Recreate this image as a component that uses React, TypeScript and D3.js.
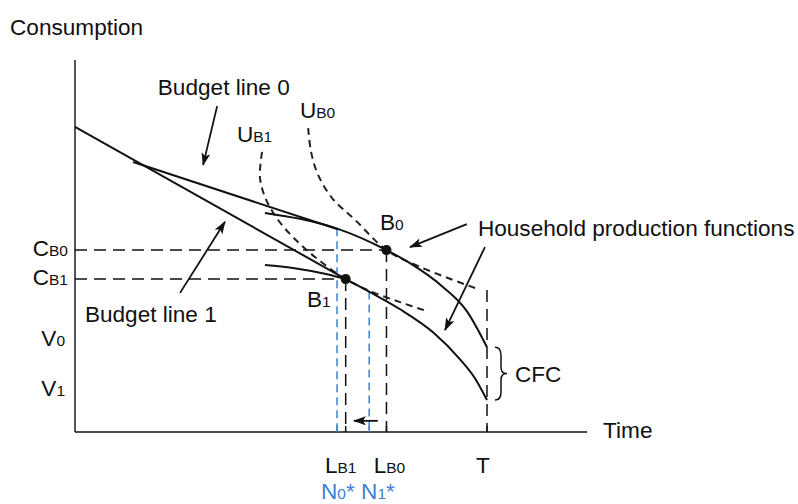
import React from 'react';
import * as d3 from 'd3';

type Pt = [number, number];

// Data space: time (x) 0..125, consumption (y) 0..100
const timeMax = 125;
const consMax = 100;
const axisEndTime = 124.3;
const T = 100;

const B0 = { time: 75.6, cons: 48.9 };
const B1 = { time: 65.7, cons: 41.1 };
const N0 = 63.6;
const N1 = 71.4;
const N0Top = 54.8;
const N1Top = 37.8;
const TTop = 38.2;
const V0 = 22.8;
const V1 = 8.6;

const budgetLine1: Pt[] = [[0, 82.0], [65.7, 41.1]];
const budgetLine0: Pt[] = [[14.1, 72.6], [63.8, 54.5]];

const hpf0: Pt[] = [
  [46.1, 58.9], [54.6, 57.3], [63.8, 54.6], [75.6, 48.9], [81.3, 45.4],
  [89.3, 39.0], [95.1, 32.5], [100, 22.8],
];
// production function 1: short arc left of B1, then the curve from B1 down to V1
const hpf1Left: Pt[] = [[46.1, 44.9], [52.9, 44.1], [61.2, 42.4], [65.7, 41.1]];
const hpf1Right: Pt[] = [
  [65.7, 41.1], [71.6, 37.6], [78.9, 33.0], [86.9, 26.8], [93.4, 19.6],
  [97.1, 14.4], [100, 8.6],
];
const uB0: Pt[] = [
  [56.6, 81.7], [57.3, 75.3], [59.0, 69.1], [62.4, 62.9], [68.0, 57.0],
  [75.6, 48.9], [83.7, 44.4], [97.1, 38.7],
];
const uB1: Pt[] = [
  [45.4, 75.3], [44.9, 68.3], [46.4, 62.4], [49.3, 57.0], [52.9, 52.4],
  [58.3, 47.0], [65.7, 41.1], [71.6, 37.9], [78.9, 34.9], [85.4, 32.5],
];

const arrows: { from: Pt; to: Pt }[] = [
  { from: [34.5, 87.6], to: [31.1, 71.8] },
  { from: [25.5, 37.4], to: [36.4, 56.5] },
  { from: [95.1, 55.9], to: [81.3, 49.7] },
  { from: [99.5, 49.7], to: [89.8, 27.4] },
  { from: [73.5, 3.0], to: [67.7, 3.0] },
];

const FONT = "'Liberation Sans', Arial, Helvetica, sans-serif";
const FS = 22.6;
const SFS = 15.5;
const BLUE = '#3f7fd6';

function Sub(props: { x: number; y: number; main: string; sub: string; anchor?: string; fill?: string }) {
  const { x, y, main, sub, anchor = 'start', fill = '#111' } = props;
  return (
    <text x={x} y={y} fontSize={FS} fill={fill} textAnchor={anchor as any} fontFamily={FONT}>
      <tspan>{main}</tspan>
      <tspan fontSize={SFS}>{sub}</tspan>
    </text>
  );
}

export default function App() {
  const x = d3.scaleLinear().domain([0, timeMax]).range([75, 590]);
  const y = d3.scaleLinear().domain([0, consMax]).range([432, 60]);
  const smooth = d3.line<Pt>().x(d => x(d[0])).y(d => y(d[1])).curve(d3.curveCatmullRom.alpha(0.5));
  const mono = d3.line<Pt>().x(d => x(d[0])).y(d => y(d[1])).curve(d3.curveMonotoneX);
  const straight = d3.line<Pt>().x(d => x(d[0])).y(d => y(d[1]));

  const bx0 = x(T) + 8;
  const by0 = y(V0);
  const by1 = y(V1);
  const bym = (by0 + by1) / 2;
  const brace = `M${bx0},${by0} Q${bx0 + 6},${by0} ${bx0 + 6},${by0 + 8} L${bx0 + 6},${bym - 6} Q${bx0 + 6},${bym} ${bx0 + 12},${bym} Q${bx0 + 6},${bym} ${bx0 + 6},${bym + 6} L${bx0 + 6},${by1 - 8} Q${bx0 + 6},${by1} ${bx0},${by1}`;

  const ticks = [
    { t: N0, c: BLUE },
    { t: B1.time, c: '#111' },
    { t: N1, c: BLUE },
    { t: B0.time, c: '#111' },
    { t: T, c: '#111' },
  ];

  return (
    <svg width={798} height={504} style={{ position: 'absolute', left: 0, top: 0, background: '#fff' }} fontFamily={FONT}>
      <defs>
        <marker id="ah" markerUnits="userSpaceOnUse" markerWidth={13} markerHeight={10} refX={12} refY={4.5} orient="auto">
          <path d="M0,0 L13,4.5 L0,9 L3,4.5 Z" fill="#111" />
        </marker>
      </defs>

      {/* axes */}
      <line x1={x(0)} y1={y(consMax)} x2={x(0)} y2={y(0)} stroke="#555" strokeWidth={2} />
      <line x1={x(0)} y1={y(0)} x2={x(axisEndTime)} y2={y(0)} stroke="#111" strokeWidth={1.5} />
      <text x={10} y={35} fontSize={FS} fill="#111">Consumption</text>
      <text x={x(axisEndTime) + 16} y={438} fontSize={FS} fill="#111">Time</text>

      {/* guide dashed lines */}
      <g stroke="#111" strokeWidth={1.5} strokeDasharray="12,7" fill="none">
        <line x1={x(0)} y1={y(B0.cons)} x2={x(B0.time)} y2={y(B0.cons)} />
        <line x1={x(0)} y1={y(B1.cons)} x2={x(B1.time)} y2={y(B1.cons)} />
        <line x1={x(B0.time)} y1={y(B0.cons)} x2={x(B0.time)} y2={y(0)} />
        <line x1={x(B1.time)} y1={y(B1.cons)} x2={x(B1.time)} y2={y(0)} />
        <line x1={x(T)} y1={y(TTop)} x2={x(T)} y2={y(0)} />
      </g>
      <g stroke={BLUE} strokeWidth={1.5} strokeDasharray="8,5" fill="none">
        <line x1={x(N0)} y1={y(N0Top)} x2={x(N0)} y2={y(0)} />
        <line x1={x(N1)} y1={y(N1Top)} x2={x(N1)} y2={y(0)} />
      </g>

      {/* ticks */}
      {ticks.map((tk, i) => (
        <line key={i} x1={x(tk.t)} x2={x(tk.t)} y1={y(0) - 6} y2={y(0)} stroke={tk.c} strokeWidth={1.5} />
      ))}

      {/* indifference curves */}
      <g stroke="#222" strokeWidth={2} strokeDasharray="7,5" fill="none">
        <path d={smooth(uB0) || ''} />
        <path d={smooth(uB1) || ''} />
      </g>

      {/* budget lines and production functions */}
      <g stroke="#111" strokeWidth={2} fill="none">
        <path d={straight(budgetLine1) || ''} />
        <path d={straight(budgetLine0) || ''} />
        <path d={mono(hpf0) || ''} />
        <path d={mono(hpf1Left) || ''} />
        <path d={mono(hpf1Right) || ''} />
      </g>

      {/* points */}
      <circle cx={x(B0.time)} cy={y(B0.cons)} r={5} fill="#111" />
      <circle cx={x(B1.time)} cy={y(B1.cons)} r={5} fill="#111" />

      {/* arrows */}
      {arrows.map((a, i) => (
        <line key={i} x1={x(a.from[0])} y1={y(a.from[1])} x2={x(a.to[0])} y2={y(a.to[1])}
          stroke="#111" strokeWidth={1.8} markerEnd="url(#ah)" />
      ))}

      {/* brace */}
      <path d={brace} stroke="#111" strokeWidth={1.5} fill="none" />
      <text x={bx0 + 20} y={bym + 8} fontSize={FS} fill="#111">CFC</text>

      {/* annotation labels */}
      <text x={x(20.1)} y={y(90.6)} fontSize={FS} fill="#111">Budget line 0</text>
      <text x={x(2.4)} y={y(29.6)} fontSize={FS} fill="#111">Budget line 1</text>
      <text x={x(97.8)} y={y(52.7)} fontSize={FS} fill="#111">Household production functions</text>
      <Sub x={x(39.3)} y={y(78.0)} main="U" sub="B1" />
      <Sub x={x(54.6)} y={y(84.4)} main="U" sub="B0" />
      <Sub x={x(74.0)} y={y(54.3)} main="B" sub="0" />
      <Sub x={x(56.3)} y={y(33.5)} main="B" sub="1" />

      {/* left labels */}
      <Sub x={x(0) - 7} y={y(B0.cons) + 6} main="C" sub="B0" anchor="end" />
      <Sub x={x(0) - 7} y={y(B1.cons) + 6} main="C" sub="B1" anchor="end" />
      <Sub x={x(0) - 10} y={y(V0) - 1} main="V" sub="0" anchor="end" />
      <Sub x={x(0) - 10} y={y(V1) - 4} main="V" sub="1" anchor="end" />

      {/* bottom labels */}
      <Sub x={x(B1.time) - 5} y={473} main="L" sub="B1" anchor="middle" />
      <Sub x={x(B0.time) + 3} y={473} main="L" sub="B0" anchor="middle" />
      <text x={x(T) - 4} y={473} fontSize={FS} fill="#111" textAnchor="middle">T</text>
      <text x={x(N0) - 16} y={499} fontSize={FS} fill={BLUE}>
        <tspan>N</tspan><tspan fontSize={SFS}>0</tspan><tspan>* N</tspan><tspan fontSize={SFS}>1</tspan><tspan>*</tspan>
      </text>
    </svg>
  );
}
